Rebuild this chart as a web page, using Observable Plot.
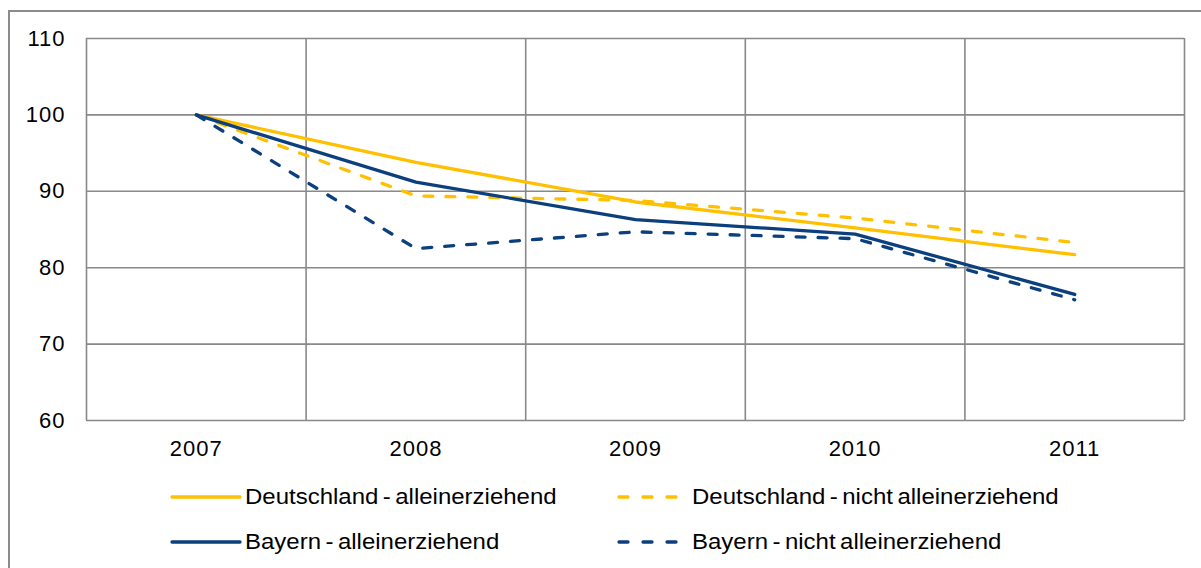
<!DOCTYPE html>
<html>
<head>
<meta charset="utf-8">
<script src="https://cdn.jsdelivr.net/npm/d3@7"></script>
<script src="https://cdn.jsdelivr.net/npm/@observablehq/plot@0.6"></script>
<style>
  html, body { margin: 0; padding: 0; background: #fff; }
  body { width: 1201px; height: 568px; overflow: hidden; position: relative; font-family: "Liberation Sans", Arial, sans-serif; }
  #frame { position: absolute; left: 8px; top: 10px; width: 1400px; height: 800px; border: 2px solid #8c8c8c; box-sizing: border-box; }
  #chart { position: absolute; left: 0; top: 0; }
  .leg { position: absolute; display: flex; align-items: center; font-size: 22px; color: #000; white-space: nowrap; }
  .leg svg { display: block; margin-right: 3px; }
  .leg span { display: inline-block; transform: scaleX(1.09); transform-origin: 0 50%; word-spacing: -2px; }
</style>
</head>
<body>
<div id="frame"></div>
<div id="chart"></div>
<div id="legend"></div>
<script>
const years = [2007, 2008, 2009, 2010, 2011];
const seriesNames = [
  "Deutschland - alleinerziehend",
  "Deutschland - nicht alleinerziehend",
  "Bayern - alleinerziehend",
  "Bayern - nicht alleinerziehend"
];
const deAllein = [100, 93.8, 88.6, 85.2, 81.7];
const deNicht  = [100, 89.4, 88.8, 86.5, 83.3];
const byAllein = [100, 91.2, 86.3, 84.4, 76.5];
const byNicht  = [100, 82.5, 84.7, 83.8, 75.8];
const yTicks = [60, 70, 80, 90, 100, 110];
const xBounds = [2006.5, 2007.5, 2008.5, 2009.5, 2010.5, 2011.5];

const seriesValues = [deAllein, deNicht, byAllein, byNicht];
const seriesColors = ["#FFC000", "#FFC000", "#0B3F7E", "#0B3F7E"];
const seriesDashed = [false, true, false, true];

const lineMarks = seriesNames.map((name, i) => {
  const data = years.map((y, j) => ({year: y, value: seriesValues[i][j], series: name}));
  return Plot.line(data, {
    x: "year", y: "value",
    stroke: seriesColors[i], strokeWidth: 3.3,
    strokeDasharray: seriesDashed[i] ? "9,13" : null,
    strokeLinecap: "round", strokeLinejoin: "round", curve: "linear"
  });
});

const plot = Plot.plot({
  width: 1201, height: 460,
  marginLeft: 86, marginRight: 17, marginTop: 38, marginBottom: 40,
  style: {fontFamily: "'Liberation Sans', Arial, sans-serif", fontSize: "22px", letterSpacing: "1px", color: "#000", background: "transparent", overflow: "visible"},
  x: {domain: [2006.5, 2011.5]},
  y: {domain: [60, 110]},
  marks: [
    Plot.ruleY(yTicks, {stroke: "#898989", strokeWidth: 1.6, strokeOpacity: 1}),
    Plot.ruleX(xBounds, {stroke: "#898989", strokeWidth: 1.6, strokeOpacity: 1}),
    Plot.axisX({ticks: years, tickSize: 0, tickPadding: 20, tickFormat: d => String(d), label: null, fill: "#000"}),
    Plot.axisY({ticks: yTicks, tickSize: 0, tickPadding: 21, label: null, fill: "#000"}),
    ...lineMarks
  ]
});
document.getElementById("chart").appendChild(plot);

// Legend
const legendPos = [[170, 497], [617, 497], [170, 542], [617, 542]];
const legend = document.getElementById("legend");
seriesNames.forEach((name, i) => {
  const div = document.createElement("div");
  div.className = "leg";
  div.style.left = legendPos[i][0] + "px";
  div.style.top = (legendPos[i][1] - 14) + "px";
  div.style.height = "28px";
  const ns = "http://www.w3.org/2000/svg";
  const svg = document.createElementNS(ns, "svg");
  svg.setAttribute("width", 72); svg.setAttribute("height", 10);
  const ln = document.createElementNS(ns, "line");
  ln.setAttribute("x1", 2); ln.setAttribute("x2", 70);
  ln.setAttribute("y1", 5); ln.setAttribute("y2", 5);
  ln.setAttribute("stroke", seriesColors[i]);
  ln.setAttribute("stroke-width", 3.3);
  ln.setAttribute("stroke-linecap", "round");
  if (seriesDashed[i]) ln.setAttribute("stroke-dasharray", "9,15");
  svg.appendChild(ln);
  div.appendChild(svg);
  const span = document.createElement("span");
  span.textContent = name;
  div.appendChild(span);
  legend.appendChild(div);
});
</script>
</body>
</html>
